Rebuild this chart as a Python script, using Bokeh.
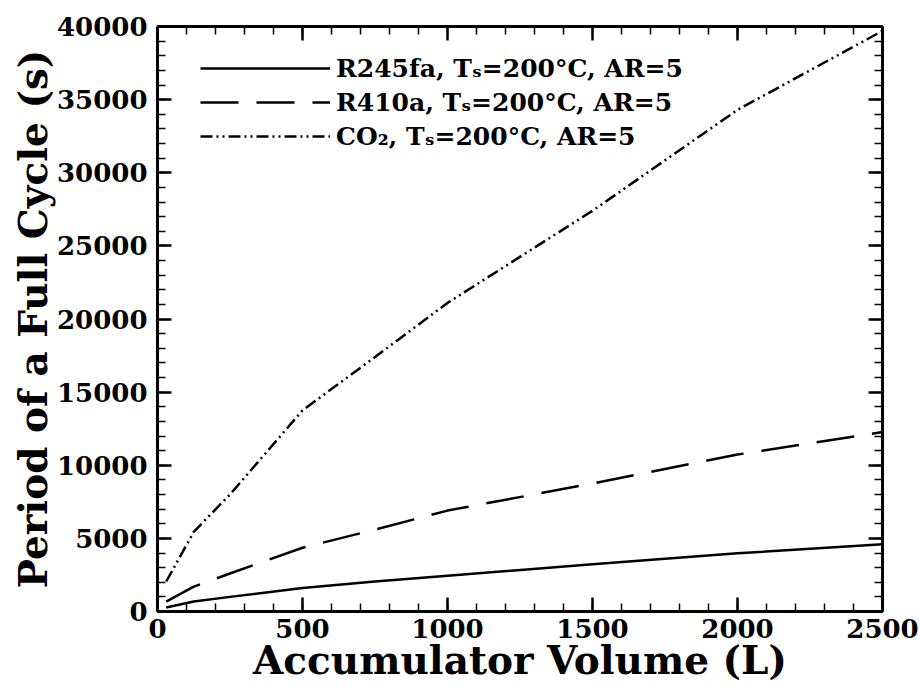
from bokeh.plotting import figure
from bokeh.models import (LinearAxis, SingleIntervalTicker, Range1d, Legend, LegendItem,
                          CustomLabelingPolicy)
from bokeh.embed import file_html
from bokeh.resources import INLINE

# ---- data ----
volume = [30, 125, 250, 500, 750, 1000, 1500, 2000, 2500]
r245fa = [270, 680, 1000, 1600, 2050, 2450, 3230, 3980, 4590]
r410a = [680, 1700, 2600, 4360, 5600, 6900, 8750, 10730, 12270]
co2 = [2050, 5450, 8000, 13750, 17400, 21100, 27400, 34300, 39700]

labels = ["R245fa, T\u209b=200\u00b0C, AR=5",
          "R410a, T\u209b=200\u00b0C, AR=5",
          "CO\u2082, T\u209b=200\u00b0C, AR=5"]

x_label = "Accumulator Volume (L)"
y_label = "Period of a Full Cycle (s)"

FONT = "DejaVu Serif"

p = figure(width=920, height=690, output_backend="svg", toolbar_location=None,
           x_range=Range1d(0, 2500), y_range=Range1d(0, 40000),
           x_axis_type=None, y_axis_type=None,
           min_border_left=157, min_border_right=38,
           min_border_top=26, min_border_bottom=79,
           background_fill_color="white", border_fill_color="white")
p.outline_line_color = None
p.xgrid.visible = False
p.ygrid.visible = False


def style_axis(ax, show_labels=True):
    ax.axis_line_width = 3
    ax.axis_line_color = "black"
    ax.major_tick_in = 14
    ax.major_tick_out = 0
    ax.minor_tick_in = 8
    ax.minor_tick_out = 0
    ax.major_tick_line_width = 2.5
    ax.minor_tick_line_width = 1.5
    ax.major_tick_line_color = "black"
    ax.minor_tick_line_color = "black"
    ax.major_label_text_font = FONT
    ax.major_label_text_font_style = "bold"
    ax.major_label_text_font_size = "26px"
    ax.major_label_text_color = "black"
    ax.axis_label_text_font = FONT
    ax.axis_label_text_font_style = "bold"
    ax.axis_label_text_font_size = "39px"
    ax.axis_label_text_color = "black"
    if not show_labels:
        ax.major_label_text_font_size = "2px"
        ax.major_label_standoff = 0
        ax.major_label_policy = CustomLabelingPolicy(code="return []")


xt = SingleIntervalTicker(interval=500, num_minor_ticks=5)
yt = SingleIntervalTicker(interval=5000, num_minor_ticks=5)

xb = LinearAxis(ticker=xt, axis_label=x_label)
style_axis(xb)
xb.major_label_standoff = 7
xb.axis_label_standoff = -4
p.add_layout(xb, "below")

yl = LinearAxis(ticker=yt, axis_label=y_label)
style_axis(yl)
yl.major_label_standoff = 10
yl.axis_label_standoff = -2
p.add_layout(yl, "left")

xa = LinearAxis(ticker=SingleIntervalTicker(interval=500, num_minor_ticks=5))
style_axis(xa, show_labels=False)
p.add_layout(xa, "above")

yr = LinearAxis(ticker=SingleIntervalTicker(interval=5000, num_minor_ticks=5))
style_axis(yr, show_labels=False)
p.add_layout(yr, "right")

r1 = p.line(volume, r245fa, line_color="black", line_width=2.5)
r2 = p.line(volume, r410a, line_color="black", line_width=2.5, line_dash="38 18")
r3 = p.line(volume, co2, line_color="black", line_width=2.5, line_dash="12 4 2 4 2 4")

legend = Legend(items=[LegendItem(label=labels[0], renderers=[r1]),
                       LegendItem(label=labels[1], renderers=[r2]),
                       LegendItem(label=labels[2], renderers=[r3])],
                location=(43, 458))
legend.background_fill_alpha = 0
legend.border_line_color = None
legend.padding = 0
legend.margin = 0
legend.spacing = 0
legend.glyph_width = 130
legend.glyph_height = 34
legend.label_height = 34
legend.label_standoff = 6
legend.label_text_font = FONT
legend.label_text_font_style = "bold"
legend.label_text_font_size = "25px"
legend.label_text_color = "black"
p.add_layout(legend)

open("out.html", "w").write(file_html(p, INLINE))
